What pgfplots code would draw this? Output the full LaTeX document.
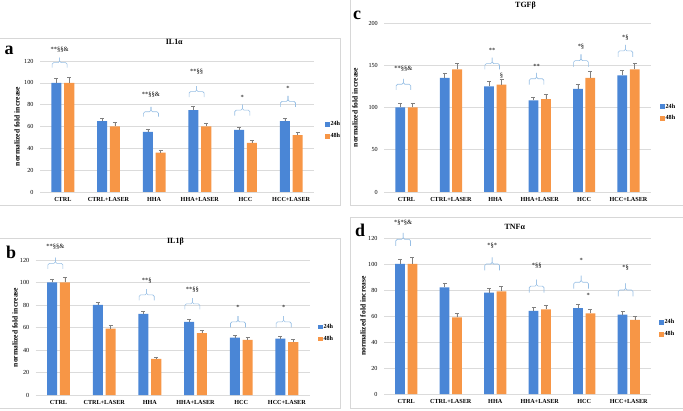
\documentclass[border=0pt]{standalone}
\usepackage{fontspec}
\setmainfont{Liberation Serif}
\usepackage{pgfplots}
\pgfplotsset{compat=1.18}
\definecolor{cblue}{RGB}{74,134,214}
\definecolor{corange}{RGB}{247,150,70}
\definecolor{bracecol}{RGB}{150,190,228}
\definecolor{framecol}{RGB}{215,215,215}
\newcommand{\sm}{\fontsize{6.2}{7}\selectfont}
\newcommand{\an}{\fontsize{6.5}{7}\selectfont}
% #1 pair centre, #2 ends, #3 tip, #4 text y, #5 text
\newcommand{\brc}[5]{%
 \draw[bracecol, line width=0.6bp, rounded corners=1.5bp] (axis cs:{#1-0.235},#2) -- (axis cs:{#1-0.235},{(#2+#3)/2}) -- (axis cs:{#1-0.07},{(#2+#3)/2}) -- (axis cs:{#1-0.07},#3);
 \draw[bracecol, line width=0.6bp, rounded corners=1.5bp] (axis cs:{#1+0.095},#2) -- (axis cs:{#1+0.095},{(#2+#3)/2}) -- (axis cs:{#1-0.07},{(#2+#3)/2}) -- (axis cs:{#1-0.07},#3);
 \node[font=\an] at (axis cs:{#1-0.07},#4) {#5};
}
\pgfplotsset{
 panel/.style={
  scale only axis, anchor=south west, clip=false,
  xmin=-0.5, xmax=5.5, ymin=0,
  xtick={0,...,5}, xticklabels={CTRL,CTRL+LASER,HHA,HHA+LASER,HCC,HCC+LASER},
  axis line style={draw=none}, major tick length=0pt, tick style={draw=none},
  ymajorgrids, grid style={draw=gray!28, line width=0.5bp},
  ticklabel style={font=\sm},
  xticklabel style={font=\bfseries\sm, yshift=-2bp},
  yticklabel style={xshift=-3bp},
  /pgf/number format/assume math mode=true,
  ylabel={normalized fold increase},
  ylabel style={font=\bfseries\fontsize{7.6}{8}\selectfont, anchor=center},
  title style={font=\bfseries\fontsize{8}{9}\selectfont, anchor=center},
  legend style={draw=none, fill=none, font=\bfseries\sm, anchor=west, row sep=4bp, inner sep=0pt, nodes={inner sep=1bp}},
  legend cell align=left,
  legend image code/.code={\fill[##1] (0bp,-2.2bp) rectangle (4.4bp,2.2bp);},
 },
 b24/.style={ybar, bar width=0.22, bar shift=0pt, fill=cblue, draw=none,
  error bars/.cd, y dir=plus, y explicit,
  error bar style={draw=black!50, line width=0.5bp},
  error mark options={draw=black!50, rotate=90, mark size=2bp, line width=0.5bp}},
 b48/.style={ybar, bar width=0.22, bar shift=0pt, fill=corange, draw=none,
  error bars/.cd, y dir=plus, y explicit,
  error bar style={draw=black!50, line width=0.5bp},
  error mark options={draw=black!50, rotate=90, mark size=2bp, line width=0.5bp}},
}
\begin{document}
\begin{tikzpicture}
\useasboundingbox (0,0) rectangle (683bp,411bp);
% frames
\draw[framecol, line width=0.8bp] (-1bp,373bp) -- (340bp,373bp) -- (340bp,206bp) -- (-1bp,206bp);
\draw[framecol, line width=0.8bp] (-1bp,173bp) -- (340bp,173bp) -- (340bp,3bp) -- (-1bp,3bp);
\draw[framecol, line width=0.8bp] (350bp,412bp) -- (350bp,206bp) -- (684bp,206bp);
\draw[framecol, line width=0.8bp] (684bp,194bp) -- (350bp,194bp) -- (350bp,3bp) -- (684bp,3bp);
% panel letters
\node[font=\bfseries\fontsize{18}{18}\selectfont] at (9bp,361bp) {a};
\node[font=\bfseries\fontsize{18}{18}\selectfont] at (11bp,159bp) {b};
\node[font=\bfseries\fontsize{18}{18}\selectfont] at (357bp,396bp) {c};
\node[font=\bfseries\fontsize{18}{18}\selectfont] at (360bp,181bp) {d};

% ---------- a: IL1alpha
\begin{axis}[panel, at={(40bp,219bp)}, width=274bp, height=131bp, ymax=120, ytick={0,20,...,120},
 title={IL1α}, title style={at={(axis description cs:0.49,1.10)}},
 ylabel style={at={(axis description cs:-0.084,0.5)}},
 legend style={at={(axis description cs:1.04,0.47)}}]
\addplot[b24] coordinates {(-0.14,100) +- (0,4.4) (0.86,65) +- (0,3) (1.86,55) +- (0,2.5) (2.86,75) +- (0,3.5) (3.86,57) +- (0,2.5) (4.86,65) +- (0,3)};
\addplot[b48] coordinates {(0.14,100) +- (0,5) (1.14,60) +- (0,3.5) (2.14,36) +- (0,2) (3.14,60) +- (0,3) (4.14,45) +- (0,2) (5.14,52) +- (0,2.5)};
\legend{24h,48h}
\brc{0}{114}{123}{130}{**§§\&}
\brc{2}{69}{78}{89}{**§§\&}
\brc{3}{87}{97}{110}{**§§}
\brc{4}{70}{80}{87}{*}
\brc{5}{78}{88}{95}{*}
\end{axis}

% ---------- b: IL1beta
\begin{axis}[panel, at={(35.7bp,16bp)}, width=274bp, height=135bp, ymax=120, ytick={0,20,...,120},
 title={IL1β}, title style={at={(axis description cs:0.51,1.09)}},
 ylabel style={at={(axis description cs:-0.076,0.5)}},
 legend style={at={(axis description cs:1.03,0.46)}}]
\addplot[b24] coordinates {(-0.14,100) +- (0,3.3) (0.86,80) +- (0,2.4) (1.86,72) +- (0,2.4) (2.86,65) +- (0,2.3) (3.86,51) +- (0,2) (4.86,50) +- (0,2)};
\addplot[b48] coordinates {(0.14,100) +- (0,5) (1.14,59) +- (0,3.2) (2.14,32) +- (0,1.8) (3.14,55) +- (0,2.2) (4.14,49) +- (0,2) (5.14,47) +- (0,2.4)};
\legend{24h,48h}
\brc{0}{112}{122}{132}{**§§\&}
\brc{2}{84}{94}{102}{**§}
\brc{3}{76}{86}{94}{**§§}
\brc{4}{60}{70}{78}{*}
\brc{5}{60}{70}{78}{*}
\end{axis}

% ---------- c: TGFbeta
\begin{axis}[panel, at={(384.3bp,219bp)}, width=266.4bp, height=169bp, ymax=200, ytick={0,50,...,200},
 title={TGFβ}, title style={at={(axis description cs:0.53,1.07)}},
 ylabel style={at={(axis description cs:-0.11,0.5)}},
 legend style={at={(axis description cs:1.035,0.47)}}]
\addplot[b24] coordinates {(-0.14,100) +- (0,4.5) (0.86,135) +- (0,6) (1.86,125) +- (0,6) (2.86,108.5) +- (0,4) (3.86,122) +- (0,5) (4.86,138) +- (0,6)};
\addplot[b48] coordinates {(0.14,100) +- (0,5) (1.14,145) +- (0,7.5) (2.14,127) +- (0,7) (3.14,110) +- (0,6) (4.14,135) +- (0,7.5) (5.14,145) +- (0,7.5)};
\legend{24h,48h}
\brc{0}{121}{134}{146}{**§§\&}
\brc{2}{145}{159}{168}{**}
\brc{3}{127}{141}{149}{**}
\brc{4}{148}{163}{172}{*§}
\brc{5}{160}{174}{182}{*§}
\node[font=\an] at (axis cs:2.14,138) {§};
\end{axis}

% ---------- d: TNFalpha
\begin{axis}[panel, at={(384bp,17bp)}, width=267bp, height=156bp, ymax=120, ytick={0,20,...,120},
 title={TNFα}, title style={at={(axis description cs:0.49,1.03)}},
 ylabel style={at={(axis description cs:-0.079,0.5)}},
 legend style={at={(axis description cs:1.03,0.42)}}]
\addplot[b24] coordinates {(-0.14,100) +- (0,4) (0.86,82) +- (0,3.5) (1.86,78) +- (0,3) (2.86,64) +- (0,2.5) (3.86,66) +- (0,3) (4.86,61) +- (0,2.5)};
\addplot[b48] coordinates {(0.14,100) +- (0,5) (1.14,59) +- (0,3) (2.14,79) +- (0,3.5) (3.14,65) +- (0,3.5) (4.14,62) +- (0,3) (5.14,57) +- (0,3)};
\legend{24h,48h}
\brc{0}{114}{124}{132}{*§*§\&}
\brc{2}{95}{105}{114}{*§*}
\brc{3}{78}{88}{99}{*§§}
\brc{4}{81}{91}{103}{*}
\brc{5}{75}{85}{97}{*§}
\node[font=\an] at (axis cs:4.09,76) {*};
\end{axis}
\end{tikzpicture}
\end{document}
